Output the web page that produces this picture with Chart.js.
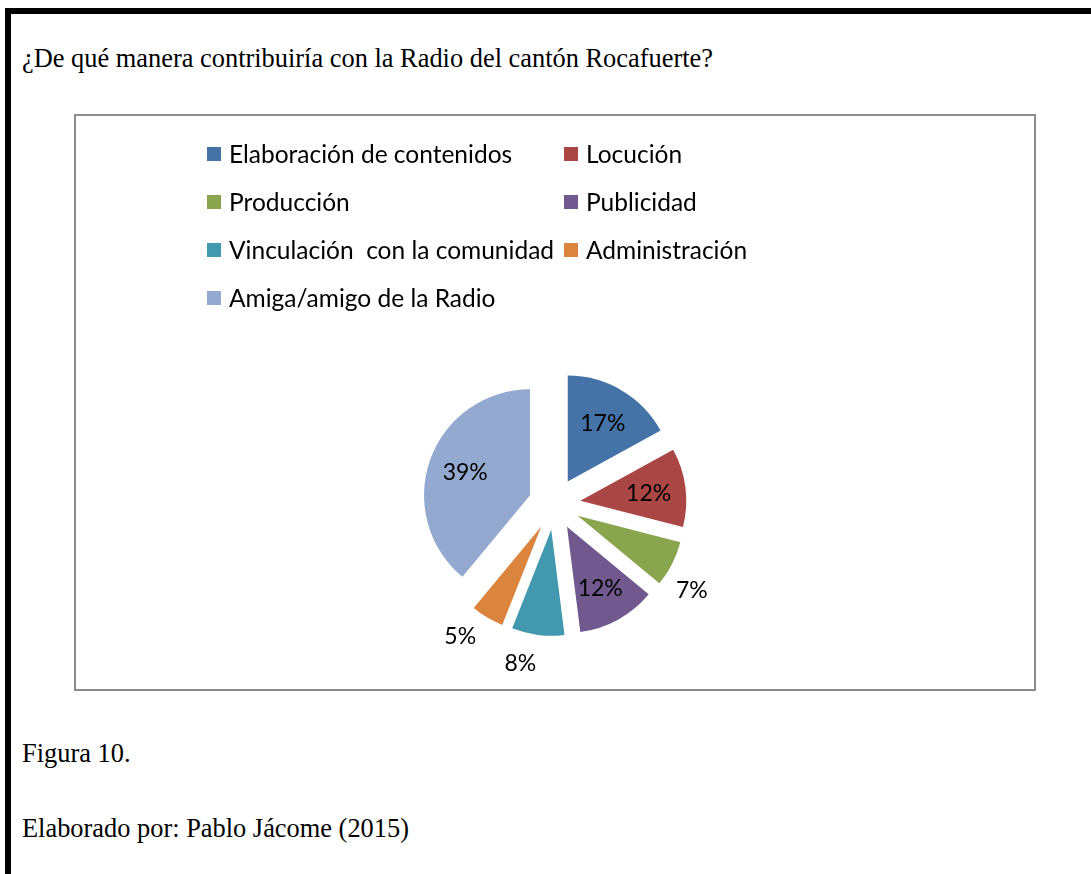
<!DOCTYPE html>
<html>
<head>
<meta charset="utf-8">
<script src="https://cdn.jsdelivr.net/npm/chart.js@4.4.1/dist/chart.umd.min.js"></script>
<style>
    body { margin: 0; background: #fff; width: 1091px; height: 874px; overflow: hidden; position: relative; }
    .marco { position: absolute; left: 5px; top: 8px; width: 1100px; height: 900px; border-top: 6px solid #000; border-left: 6px solid #000; }
    .texto { position: absolute; left: 22px; font-family: "Liberation Serif", "Times New Roman", serif; font-size: 26.4px; line-height: 26.4px; color: #000; white-space: nowrap; }
    .caja { position: absolute; left: 74px; top: 114px; width: 958px; height: 573px; border: 2px solid #8c8c8c; background: #fff; }
</style>
</head>
<body>
<div class="marco"></div>
<div class="texto" style="top:45px;">¿De qué manera contribuiría con la Radio del cantón Rocafuerte?</div>
<div class="caja"><canvas id="graficaRadio" width="958" height="573"></canvas></div>
<div class="texto" style="top:740px;">Figura 10.</div>
<div class="texto" style="top:815px;">Elaborado por: Pablo Jácome (2015)</div>

<script>
const categorias = [
    'Elaboración de contenidos',
    'Locución',
    'Producción',
    'Publicidad',
    'Vinculación  con la comunidad',
    'Administración',
    'Amiga/amigo de la Radio'
]

const porcentajes = [17, 12, 7, 12, 8, 5, 39]

const colores = ['#4572A7', '#AA4643', '#89A54E', '#71588F', '#4198AF', '#DB843D', '#93A9CF']

const fuenteLeyenda = '24.5px Lato, "Open Sans", sans-serif'
const fuenteEtiquetas = '23px Lato, "Open Sans", sans-serif'
const separacion = 26   // cuánto se separa cada porción del centro

// Mueve cada porción hacia afuera (pastel "explotado" como en Excel)
function moverPorciones(meta, signo) {
    meta.data.forEach(arc => {
        const medio = (arc.startAngle + arc.endAngle) / 2
        arc.x += Math.cos(medio) * separacion * signo
        arc.y += Math.sin(medio) * separacion * signo
    })
}

const explotar = {
    id: 'explotar',
    beforeDatasetDraw(chart, args) { moverPorciones(args.meta, 1) },
    afterDatasetDraw(chart, args) { moverPorciones(args.meta, -1) }
}

// Etiquetas de porcentaje: dentro si la porción es grande, afuera si es pequeña
const etiquetas = {
    id: 'etiquetas',
    afterDatasetsDraw(chart) {
        const ctx = chart.ctx
        const meta = chart.getDatasetMeta(0)
        ctx.save()
        ctx.font = fuenteEtiquetas
        ctx.fillStyle = '#000'
        ctx.textAlign = 'center'
        ctx.textBaseline = 'middle'
        meta.data.forEach((arc, i) => {
            const medio = (arc.startAngle + arc.endAngle) / 2
            const r = arc.outerRadius
            let x, y
            if (porcentajes[i] >= 10) {
                const d = separacion + r * 0.65
                x = arc.x + Math.cos(medio) * d
                y = arc.y + Math.sin(medio) * d
            } else {
                const ang = medio + 5 * Math.PI / 180
                const d = r + separacion + 30
                x = arc.x + Math.cos(ang) * d
                y = arc.y + Math.sin(ang) * d
            }
            ctx.fillText(porcentajes[i] + '%', x, y + 1)
        })
        ctx.restore()
    }
}

// Leyenda en dos columnas, como la del original
const leyenda = {
    id: 'leyenda',
    afterDraw(chart) {
        const ctx = chart.ctx
        ctx.save()
        ctx.font = fuenteLeyenda
        ctx.textBaseline = 'middle'
        categorias.forEach((cat, i) => {
            const col = i % 2
            const fila = Math.floor(i / 2)
            const x = 131 + col * 357
            const y = 38 + fila * 48
            ctx.fillStyle = colores[i]
            ctx.fillRect(x, y - 7, 14, 14)
            ctx.fillStyle = '#000'
            ctx.fillText(cat, x + 22, y + 1)
        })
        ctx.restore()
    }
}

const ctx = document.getElementById('graficaRadio').getContext('2d')
new Chart(ctx, {
    type: 'pie',
    data: {
        labels: categorias,
        datasets: [{
            data: porcentajes,
            backgroundColor: colores,
            borderWidth: 0
        }]
    },
    options: {
        responsive: false,
        animation: false,
        radius: 106,
        layout: { padding: { left: 0, right: 1, top: 230, bottom: 27 } },
        plugins: {
            legend: { display: false },
            tooltip: { enabled: false }
        }
    },
    plugins: [explotar, etiquetas, leyenda]
})
</script>
</body>
</html>
